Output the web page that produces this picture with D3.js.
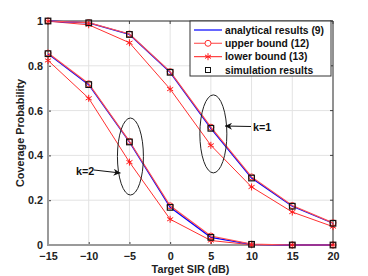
<!DOCTYPE html>
<html><head><meta charset="utf-8">
<script src="https://cdn.jsdelivr.net/npm/d3@7/dist/d3.min.js"></script>
<style>body{margin:0;background:#fff}svg{display:block}text{font-family:"Liberation Sans",Arial,sans-serif;font-weight:bold}</style>
</head><body><svg id="c" width="368" height="276"></svg>
<script>
const sir = [-15,-10,-5,0,5,10,15,20];
const xTicks = [-15,-10,-5,0,5,10,15,20];
const yTicks = [0,0.2,0.4,0.6,0.8,1];
const yTickLabels = ["0","0.2","0.4","0.6","0.8","1"];
// k = 1
const anaK1 = [1.0,0.992,0.94,0.771,0.521,0.299,0.173,0.097];
const upK1  = [1.0,0.993,0.942,0.774,0.526,0.304,0.176,0.099];
const loK1  = [0.999,0.983,0.903,0.696,0.445,0.259,0.147,0.082];
const simK1 = [1.0,0.992,0.94,0.771,0.521,0.299,0.173,0.097];
// k = 2
const anaK2 = [0.854,0.716,0.46,0.168,0.034,0.003,0.0,0.0];
const upK2  = [0.857,0.72,0.463,0.175,0.04,0.004,0.0,0.0];
const loK2  = [0.824,0.655,0.37,0.115,0.02,0.001,0.0,0.0];
const simK2 = [0.854,0.716,0.46,0.168,0.034,0.003,0.0,0.0];
const legendLabels = ["analytical results (9)","upper bound (12)","lower bound (13)","simulation results"];

const svg = d3.select("#c");
const L=48,R=333,T=21,B=245;
const x = d3.scaleLinear().domain([-15,20]).range([L,R]);
const y = d3.scaleLinear().domain([0,1]).range([B,T]);

// grid
const g = svg.append("g");
g.selectAll(".gx").data(xTicks).enter().append("line")
 .attr("x1",d=>x(d)).attr("x2",d=>x(d)).attr("y1",T).attr("y2",B)
 .attr("stroke","#e3e3e3").attr("stroke-width",1);
g.selectAll(".gy").data(yTicks).enter().append("line")
 .attr("x1",L).attr("x2",R).attr("y1",d=>y(d)).attr("y2",d=>y(d))
 .attr("stroke","#e3e3e3").attr("stroke-width",1);

// axes
const xa = svg.append("g").attr("transform",`translate(0,${B})`)
 .call(d3.axisBottom(x).tickValues(xTicks).tickSize(-3).tickPadding(7).tickFormat(d3.format("d")));
const ya = svg.append("g").attr("transform",`translate(${L},0)`)
 .call(d3.axisLeft(y).tickValues(yTicks).tickSize(-3).tickPadding(5).tickFormat((d,i)=>yTickLabels[i]));
[xa,ya].forEach(a=>{a.select(".domain").remove();
 a.selectAll("line").attr("stroke","#444");
 a.selectAll("text").attr("font-size",10.8).attr("fill","#222").attr("font-family","Liberation Sans, Arial").attr("font-weight","bold");});
// top & right ticks
svg.append("g").selectAll("line").data(yTicks).enter().append("line")
 .attr("x1",R).attr("x2",R-3).attr("y1",d=>y(d)).attr("y2",d=>y(d)).attr("stroke","#444");
svg.append("g").selectAll("line").data(xTicks).enter().append("line")
 .attr("x1",d=>x(d)).attr("x2",d=>x(d)).attr("y1",T).attr("y2",T+3).attr("stroke","#444");
// box
svg.append("line").attr("x1",L).attr("x2",R).attr("y1",T).attr("y2",T).attr("stroke","#333").attr("stroke-width",1);
svg.append("line").attr("x1",R).attr("x2",R).attr("y1",T).attr("y2",B).attr("stroke","#333").attr("stroke-width",1);
svg.append("line").attr("x1",L).attr("x2",L).attr("y1",T).attr("y2",B+1).attr("stroke","#9a9a9a").attr("stroke-width",2);
svg.append("line").attr("x1",L).attr("x2",R).attr("y1",B).attr("y2",B).attr("stroke","#9a9a9a").attr("stroke-width",2);

const line = d3.line().x((d,i)=>x(sir[i])).y(d=>y(d));
function series(vals,color,w){svg.append("path").datum(vals).attr("d",line).attr("fill","none").attr("stroke",color).attr("stroke-width",w);}
function circles(vals){svg.append("g").selectAll("circle").data(vals).enter().append("circle")
 .attr("cx",(d,i)=>x(sir[i])).attr("cy",d=>y(d)).attr("r",3).attr("fill","none").attr("stroke","#ff3030").attr("stroke-width",1);}
function stars(vals){const gg=svg.append("g");vals.forEach((d,i)=>{const cx=x(sir[i]),cy=y(d),r=3.5;
 [[0,1],[0.866,0.5],[0.866,-0.5]].forEach(([a,b])=>gg.append("line").attr("x1",cx-a*r).attr("x2",cx+a*r).attr("y1",cy-b*r).attr("y2",cy+b*r).attr("stroke","#ff1a1a").attr("stroke-width",1));});}
function squares(vals){svg.append("g").selectAll("rect").data(vals).enter().append("rect")
 .attr("x",(d,i)=>x(sir[i])-2.8).attr("y",d=>y(d)-2.8).attr("width",5.6).attr("height",5.6).attr("fill","none").attr("stroke","#111").attr("stroke-width",1.2);}

series(loK1,"#ff3030",1); series(loK2,"#ff3030",1);
series(anaK1,"#0000ff",1.3); series(anaK2,"#0000ff",1.3);
series(upK1,"#ff5050",1.2); series(upK2,"#ff5050",1.2);
stars(loK1); stars(loK2); circles(upK1); circles(upK2); squares(simK1); squares(simK2);

// ellipses & annotations
svg.append("ellipse").attr("cx",x(-5)+1).attr("cy",y(0.395)).attr("rx",13).attr("ry",38.5).attr("fill","none").attr("stroke","#222").attr("stroke-width",1);
svg.append("ellipse").attr("cx",x(5)+2.5).attr("cy",y(0.496)).attr("rx",13.5).attr("ry",39).attr("fill","none").attr("stroke","#222").attr("stroke-width",1);
svg.append("defs").append("marker").attr("id","ah").attr("viewBox","0 0 10 10").attr("refX",10).attr("refY",5)
 .attr("markerWidth",9).attr("markerHeight",7).attr("markerUnits","userSpaceOnUse").attr("orient","auto")
 .append("path").attr("d","M0,0 L10,5 L0,10 L3,5 Z").attr("fill","#111");
svg.append("line").attr("x1",251).attr("y1",126.5).attr("x2",225).attr("y2",126).attr("stroke","#111").attr("marker-end","url(#ah)");
svg.append("text").attr("x",253).attr("y",130.5).attr("font-size",10.8).attr("fill","#111").text("k=1");
svg.append("line").attr("x1",94).attr("y1",170).attr("x2",120.5).attr("y2",173).attr("stroke","#111").attr("marker-end","url(#ah)");
svg.append("text").attr("x",76).attr("y",175).attr("font-size",10.8).attr("fill","#111").text("k=2");

// axis labels
svg.append("text").attr("x",(L+R)/2).attr("y",273).attr("text-anchor","middle").attr("font-size",10.8).attr("fill","#222").text("Target SIR (dB)");
svg.append("text").attr("transform",`translate(24,${(T+B)/2}) rotate(-90)`).attr("text-anchor","middle").attr("font-size",10.8).attr("fill","#222").text("Coverage Probability");

// legend
const lg = svg.append("g");
lg.append("rect").attr("x",190).attr("y",T).attr("width",141).attr("height",55).attr("fill","#fff").attr("stroke","#333").attr("stroke-width",1);
const rows=[30,43.3,56.7,70];
legendLabels.forEach((t,i)=>{
  const yy=rows[i];
  if(i===0) lg.append("line").attr("x1",194).attr("x2",222).attr("y1",yy).attr("y2",yy).attr("stroke","#0000ff").attr("stroke-width",1.2);
  if(i===1){lg.append("line").attr("x1",194).attr("x2",222).attr("y1",yy).attr("y2",yy).attr("stroke","#ff6060").attr("stroke-width",1.2);
    lg.append("circle").attr("cx",208).attr("cy",yy).attr("r",3).attr("fill","#fff").attr("stroke","#ff3030");}
  if(i===2){lg.append("line").attr("x1",194).attr("x2",222).attr("y1",yy).attr("y2",yy).attr("stroke","#ff1a1a").attr("stroke-width",1);
    [[0,1],[0.866,0.5],[0.866,-0.5]].forEach(([a,b])=>lg.append("line").attr("x1",208-a*3.5).attr("x2",208+a*3.5).attr("y1",yy-b*3.5).attr("y2",yy+b*3.5).attr("stroke","#ff1a1a"));}
  if(i===3) lg.append("rect").attr("x",205.5).attr("y",yy-2.5).attr("width",5).attr("height",5).attr("fill","none").attr("stroke","#111");
  lg.append("text").attr("x",225).attr("y",yy+3.7).attr("font-size",10.3).attr("fill","#111").text(t);
});
</script></body></html>
